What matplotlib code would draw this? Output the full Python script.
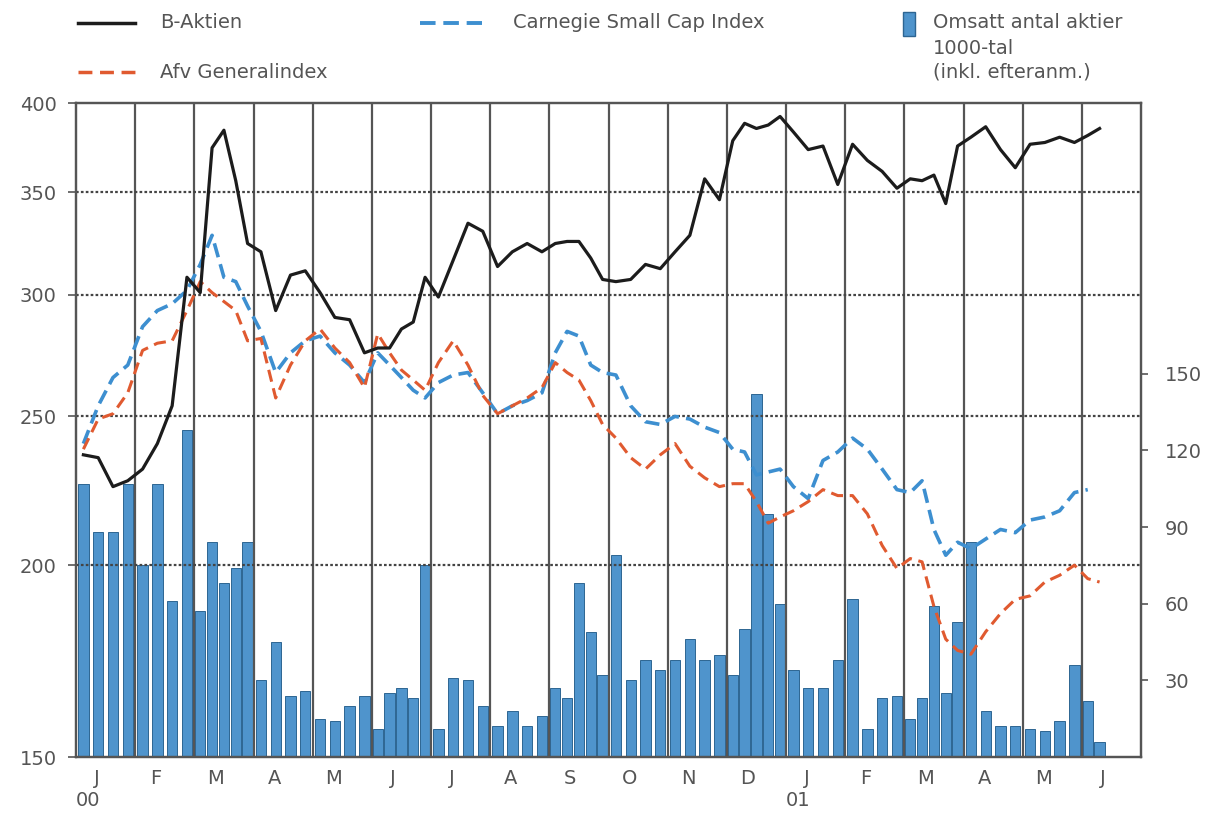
import numpy as np
import pandas as pd
import matplotlib
matplotlib.use('Agg')
import matplotlib.pyplot as plt
import matplotlib.transforms as mtransforms
from matplotlib.lines import Line2D
from matplotlib.patches import Rectangle
from matplotlib.ticker import FixedLocator, FixedFormatter, NullLocator

# Weekly observations (Fridays), Jan 2000 - Jun 2001
week_dates = pd.date_range('2000-01-07', '2001-06-08', freq='W-FRI')

b_aktien = [236, 235, 225, 227, 231, 240, 254, 308, 301, 374,
            384, 356, 324, 320, 293, 309, 311, 301, 290, 289,
            275, 277, 277, 285, 288, 308, 299, 316, 334, 330,
            313, 320, 324, 320, 324, 325, 325, 317, 307, 306,
            307, 314, 312, 320, 328, 357, 346, 378, 388, 385,
            387, 392, 383, 373, 375, 354, 376, 367, 361, 352,
            357, 356, 359, 344, 375, 380, 386, 373, 363, 376,
            377, 380, 377, 381, 385]

afv_index = [238, 249, 251, 259, 276, 279, 280, 293, 306, 301,
             297, 293, 280, 281, 257, 270, 280, 285, 277, 271,
             261, 283, 275, 268, 264, 260, 271, 280, 270, 258,
             251, 254, 257, 261, 271, 267, 264, 256, 247, 242,
             235, 231, 236, 240, 232, 228, 225, 226, 226, 220,
             213, 215, 217, 220, 224, 222, 222, 216, 206, 199,
             202, 201, 188, 179, 176, 175, 181, 186, 190, 191,
             195, 197, 200, 196, 195]

carnegie = [240, 254, 265, 270, 286, 293, 296, 302, 314, 328,
            308, 306, 295, 284, 267, 275, 280, 282, 275, 270,
            263, 275, 270, 265, 260, 257, 263, 266, 267, 259,
            251, 254, 256, 259, 275, 284, 282, 270, 267, 266,
            254, 248, 247, 250, 249, 246, 244, 238, 237, 229,
            230, 231, 225, 221, 234, 237, 242, 238, 231, 224,
            223, 227, 211, 203, 207, 205, 208, 211, 210, 214,
            215, 217, 223, 224]

# traded shares, thousands
volume = [107, 88, 88, 107, 75, 107, 61, 128, 57, 84,
          68, 74, 84, 30, 45, 24, 26, 15, 14, 20,
          24, 11, 25, 27, 23, 75, 11, 31, 30, 20,
          12, 18, 12, 16, 27, 23, 68, 49, 32, 79,
          30, 38, 34, 38, 46, 38, 40, 32, 50, 142,
          95, 60, 34, 27, 27, 38, 62, 11, 23, 24,
          15, 23, 59, 25, 53, 84, 18, 12, 12, 11,
          10, 14, 36, 22, 6]

month_labels = ['J', 'F', 'M', 'A', 'M', 'J', 'J', 'A', 'S', 'O', 'N', 'D',
                'J', 'F', 'M', 'A', 'M', 'J']
year_labels = {0: '00', 12: '01'}
left_ticks = [150, 200, 250, 300, 350, 400]
right_ticks = [30, 60, 90, 120, 150]

txt = '#555555'
plt.rcParams['font.family'] = ['DejaVu Sans']


def month_pos(d):
    # every month gets the same width, weeks spread evenly inside it
    m = (d.year - 2000) * 12 + d.month - 1
    fridays = list(pd.date_range(d.replace(day=1), d + pd.offsets.MonthEnd(0), freq='W-FRI'))
    return m + (fridays.index(d) + 0.5) / len(fridays)


x = np.array([month_pos(d) for d in week_dates])

W, H = 1211, 815
fig = plt.figure(figsize=(W / 100, H / 100), dpi=100)
ax = fig.add_axes([76 / W, 58 / H, 1065 / W, 654 / H])
axl = ax.twinx()

# bars on the base axes (right scale)
ax.bar(x, volume, width=0.175, color='#4f94cc', edgecolor='#2d6592', linewidth=0.7)
ax.set_ylim(0, 256)
ax.set_xlim(0, 18)
ax.yaxis.tick_right()
ax.yaxis.set_major_locator(FixedLocator(right_ticks))
ax.tick_params(axis='y', direction='out', length=5, width=1.2, colors=txt,
               labelsize=14, pad=12)

ax.set_xticks([i + 0.35 for i in range(18)])
ax.set_xticklabels(month_labels)
ax.tick_params(axis='x', length=0, pad=9, labelsize=14, colors=txt)
for m, lab in year_labels.items():
    ax.text(m + 0.2, -0.066, lab, transform=mtransforms.blended_transform_factory(ax.transData, ax.transAxes),
            ha='center', va='center', fontsize=14, color=txt)

# index lines on a log scale (left)
axl.set_yscale('log')
axl.set_ylim(150, 400)
axl.yaxis.tick_left()
axl.yaxis.set_major_locator(FixedLocator(left_ticks))
axl.yaxis.set_major_formatter(FixedFormatter([str(t) for t in left_ticks]))
axl.yaxis.set_minor_locator(NullLocator())
axl.tick_params(axis='y', direction='out', length=6, width=1.2, colors=txt,
                labelsize=14, pad=8)

for i in range(1, 18):
    axl.axvline(i, color='#555555', lw=1.6, zorder=1)
for v in [200, 250, 300, 350]:
    axl.axhline(v, color='#444444', lw=1.6, ls=(0, (1.2, 1.0)), zorder=1)

axl.plot(x[:len(b_aktien)], b_aktien, color='#1c1c1c', lw=2.3, zorder=4)
axl.plot(x[:len(carnegie)], carnegie, color='#3d8fd0', lw=2.6, dashes=(4, 2), zorder=3)
axl.plot(x[:len(afv_index)], afv_index, color='#e05a30', lw=2.2, dashes=(4, 2.2), zorder=3)

for a in (ax, axl):
    for s in a.spines.values():
        s.set_color('#555555')
        s.set_linewidth(1.6)

# legend drawn on the figure


def fx(px):
    return px / W


def fy(py):
    return 1 - py / H


fig.add_artist(Line2D([fx(78), fx(135)], [fy(23), fy(23)], color='#1c1c1c', lw=2.5))
fig.add_artist(Line2D([fx(78), fx(135)], [fy(72), fy(72)], color='#e05a30', lw=2.5, dashes=(4, 2.2)))
fig.add_artist(Line2D([fx(420), fx(482)], [fy(23), fy(23)], color='#3d8fd0', lw=2.8, dashes=(4, 2)))
fig.add_artist(Rectangle((fx(903), fy(36)), fx(12), 24 / H, transform=fig.transFigure,
                         facecolor='#4f94cc', edgecolor='#2d6592', lw=1))

lkw = dict(fontsize=14, color=txt, va='center', ha='left')
fig.text(fx(160), fy(23), 'B-Aktien', **lkw)
fig.text(fx(160), fy(72), 'Afv Generalindex', **lkw)
fig.text(fx(513), fy(23), 'Carnegie Small Cap Index', **lkw)
fig.text(fx(933), fy(23), 'Omsatt antal aktier', **lkw)
fig.text(fx(933), fy(48), '1000-tal', **lkw)
fig.text(fx(933), fy(72), '(inkl. efteranm.)', **lkw)

fig.savefig('out.png', dpi=100)
